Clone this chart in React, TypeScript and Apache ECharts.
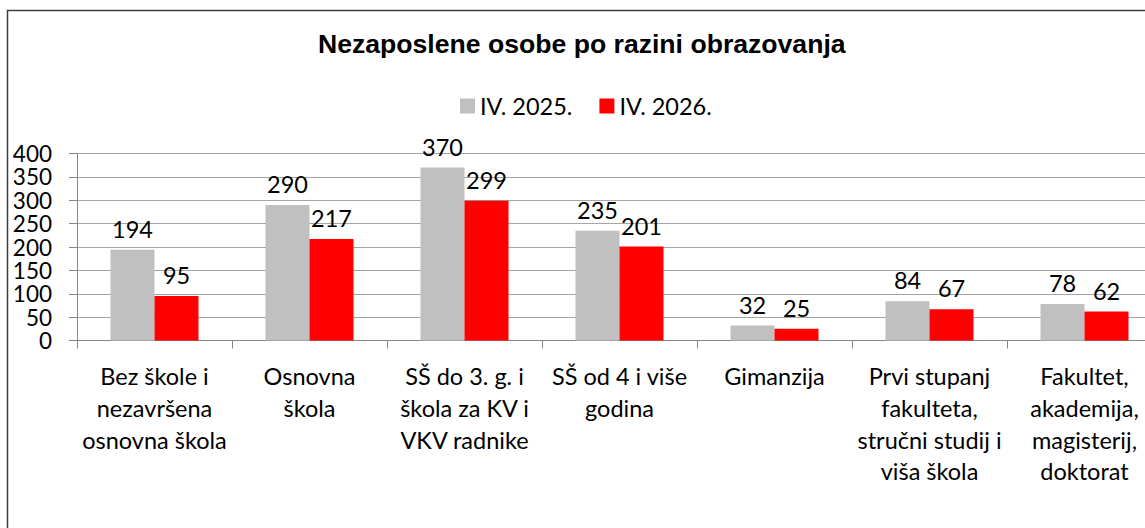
import React, { useEffect, useRef } from "react";
import * as echarts from "echarts";

const categories = [
  "Bez škole i\nnezavršena\nosnovna škola",
  "Osnovna\nškola",
  "SŠ do 3. g. i\nškola za KV i\nVKV radnike",
  "SŠ od 4 i više\ngodina",
  "Gimanzija",
  "Prvi stupanj\nfakulteta,\nstručni studij i\nviša škola",
  "Fakultet,\nakademija,\nmagisterij,\ndoktorat",
];
const series2025 = [194, 290, 370, 235, 32, 84, 78];
const series2026 = [95, 217, 299, 201, 25, 67, 62];
const seriesNames = ["IV. 2025.", "IV. 2026."];
const titleText = "Nezaposlene osobe po razini obrazovanja";

const FONT = "Lato";
const FS = 23.5;

export default function App() {
  const ref = useRef<HTMLDivElement>(null);
  useEffect(() => {
    if (!ref.current) return;
    const chart = echarts.init(ref.current, null, { renderer: "svg" });
    const labelStyle = {
      show: true,
      position: "top" as const,
      distance: 11,
      color: "#000",
      fontFamily: FONT,
      fontSize: FS,
      lineHeight: 20,
    };
    chart.setOption({
      animation: false,
      backgroundColor: "#fff",
      graphic: [
        {
          type: "rect",
          shape: { x: 7.5, y: 10.5, width: 1200, height: 700 },
          style: { fill: "none", stroke: "#3c3c3c", lineWidth: 1.5 },
          silent: true,
          z: -1,
        },
      ],
      title: {
        text: titleText,
        left: 318,
        top: 30,
        padding: 0,
        textStyle: {
          fontFamily: "Liberation Sans, Arial",
          fontWeight: "bold",
          fontSize: 26.6,
          color: "#000",
        },
      },
      legend: {
        left: 460,
        top: 94,
        padding: 0,
        itemWidth: 15,
        itemHeight: 15,
        itemGap: 27,
        icon: "rect",
        textStyle: { fontFamily: FONT, fontSize: FS, color: "#000" },
        data: seriesNames,
      },
      grid: { left: 77, top: 153.5, width: 1085, height: 187, containLabel: false },
      xAxis: {
        type: "category",
        data: categories,
        axisLine: { lineStyle: { color: "#868686", width: 1 } },
        axisTick: { show: true, length: 8, lineStyle: { color: "#868686" } },
        axisLabel: {
          interval: 0,
          margin: 20,
          color: "#000",
          fontFamily: FONT,
          fontSize: FS,
          lineHeight: 31.7,
          align: "center",
        },
      },
      yAxis: {
        type: "value",
        min: 0,
        max: 400,
        interval: 50,
        axisLine: { show: true, lineStyle: { color: "#868686" } },
        axisTick: { show: true, length: 8, lineStyle: { color: "#868686" } },
        splitLine: { lineStyle: { color: "#a6a6a6" } },
        axisLabel: {
          margin: 25,
          color: "#000",
          fontFamily: FONT,
          fontSize: 22.5,
          lineHeight: 20,
          showMinLabel: true,
          showMaxLabel: true,
          hideOverlap: false,
        },
      },
      series: [
        {
          name: seriesNames[0],
          type: "bar",
          data: series2025,
          barWidth: 44,
          barGap: "0%",
          itemStyle: { color: "#c0c0c0" },
          label: labelStyle,
        },
        {
          name: seriesNames[1],
          type: "bar",
          data: series2026,
          barWidth: 44,
          barGap: "0%",
          itemStyle: { color: "#ff0000" },
          label: labelStyle,
        },
      ],
    });
    return () => chart.dispose();
  }, []);
  return (
    <div style={{ position: "fixed", left: 0, top: 0, right: 0, bottom: 0, overflow: "hidden", background: "#fff" }}>
      <div ref={ref} style={{ position: "absolute", left: 0, top: 0, width: 1175, height: 560 }} />
    </div>
  );
}
